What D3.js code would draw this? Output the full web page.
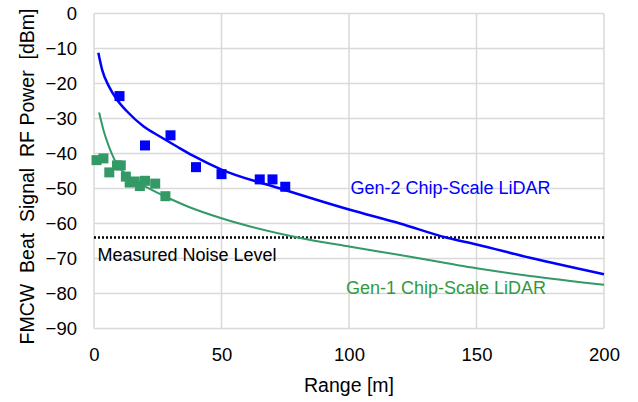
<!DOCTYPE html>
<html>
<head>
<meta charset="utf-8">
<script src="https://cdn.jsdelivr.net/npm/d3@7"></script>
<style>
  body { margin: 0; background: #fff; }
  svg { font-family: "Liberation Sans", Arial, sans-serif; }
</style>
</head>
<body>
<div class="panel"></div>
<script>
// measured points [range m, power dBm]
const gen2Points = [[10, -23.6], [20, -37.7], [30, -34.8], [40, -43.9], [50, -45.9],
                    [65, -47.4], [70, -47.4], [75, -49.5]];
const gen1Points = [[1, -41.9], [3.7, -41.4], [6, -45.4], [9, -43.4], [10.5, -43.4],
                    [12.5, -46.6], [14, -48.3], [16, -48], [18, -49.3], [20, -47.8],
                    [24, -48.6], [28, -52.2]];

// fitted curves
const gen2Fit = [[1.7, -11.2], [3.2, -16.1], [5.9, -20.9], [9.1, -24.7], [13, -28], [19.5, -32.3],
                 [26, -35.2], [32.5, -38], [39, -40.7], [50, -44.6], [73, -50], [100, -56],
                 [120, -60], [138, -64], [150, -66], [171, -69.8], [200, -74.5]];
const gen1Fit = [[2, -28.3], [3.9, -33.8], [5.9, -38.1], [7.8, -41.4], [9.4, -43.6], [12, -45.5],
                 [16, -47.8], [20, -49.4], [24, -50.9], [30, -53], [37, -55.2], [50, -58.5],
                 [80, -64], [100, -66.6], [120, -69], [150, -72.8], [171, -75], [200, -77.5]];

const noiseLevel = -64;
const xTicks = [0, 50, 100, 150, 200];
const yTicks = [0, -10, -20, -30, -40, -50, -60, -70, -80, -90];

const width = 638;
const height = 402;
const plotLeft = 94, plotTop = 13.5, plotRight = 604, plotBottom = 328.5;

const svg = d3.select(".panel")
  .append("svg")
  .attr("width", width)
  .attr("height", height);

const x = d3.scaleLinear().domain([0, 200]).range([plotLeft, plotRight]);
const y = d3.scaleLinear().domain([-90, 0]).range([plotBottom, plotTop]);

// grid
svg.append("g")
   .selectAll("line")
   .data(yTicks)
   .join("line")
   .attr("x1", plotLeft).attr("x2", plotRight)
   .attr("y1", d => y(d)).attr("y2", d => y(d))
   .attr("stroke", "#d9d9d9").attr("stroke-width", 1.5);

svg.append("g")
   .selectAll("line")
   .data(xTicks)
   .join("line")
   .attr("x1", d => x(d)).attr("x2", d => x(d))
   .attr("y1", plotTop).attr("y2", plotBottom)
   .attr("stroke", "#d9d9d9").attr("stroke-width", 1.5);

// axes (text only, lines come from the grid)
const xAxis = svg.append("g")
   .attr("transform", `translate(0, ${plotBottom})`)
   .call(d3.axisBottom(x).tickValues(xTicks).tickSize(0).tickPadding(19));
const yAxis = svg.append("g")
   .attr("transform", `translate(${plotLeft}, 0)`)
   .call(d3.axisLeft(y).tickValues(yTicks).tickSize(0).tickPadding(17));
[xAxis, yAxis].forEach(a => {
  a.select(".domain").remove();
  a.selectAll("text")
   .attr("font-size", 18.5)
   .attr("font-family", "Liberation Sans, Arial, sans-serif")
   .attr("fill", "#000");
});

// noise level
svg.append("line")
   .attr("x1", x(0)).attr("x2", x(200))
   .attr("y1", y(noiseLevel)).attr("y2", y(noiseLevel))
   .attr("stroke", "#000").attr("stroke-width", 2.5)
   .attr("stroke-dasharray", "2,2");

// markers
const sq = 10;
svg.append("g")
   .selectAll("rect")
   .data(gen1Points)
   .join("rect")
   .attr("x", d => x(d[0]) - sq / 2).attr("y", d => y(d[1]) - sq / 2)
   .attr("width", sq).attr("height", sq)
   .attr("fill", "#339966");

svg.append("g")
   .selectAll("rect")
   .data(gen2Points)
   .join("rect")
   .attr("x", d => x(d[0]) - sq / 2).attr("y", d => y(d[1]) - sq / 2)
   .attr("width", sq).attr("height", sq)
   .attr("fill", "#0000ff");

// fit lines
const line = d3.line()
  .x(d => x(d[0]))
  .y(d => y(d[1]))
  .curve(d3.curveMonotoneX);

svg.append("path")
   .attr("d", line(gen1Fit))
   .attr("fill", "none").attr("stroke", "#339966").attr("stroke-width", 2);

svg.append("path")
   .attr("d", line(gen2Fit))
   .attr("fill", "none").attr("stroke", "#0000ff").attr("stroke-width", 2.5);

// labels
svg.append("text")
   .attr("x", 350.5).attr("y", 193.5)
   .attr("font-size", 18).attr("fill", "#0000ff")
   .text("Gen-2 Chip-Scale LiDAR");

svg.append("text")
   .attr("x", 346).attr("y", 294)
   .attr("font-size", 18).attr("fill", "#2e9a42")
   .text("Gen-1 Chip-Scale LiDAR");

svg.append("text")
   .attr("x", 97.5).attr("y", 260.5)
   .attr("font-size", 18).attr("fill", "#000")
   .text("Measured Noise Level");

svg.append("text")
   .attr("x", (plotLeft + plotRight) / 2).attr("y", 392)
   .attr("text-anchor", "middle")
   .attr("font-size", 19.5)
   .text("Range [m]");

svg.append("text")
   .attr("transform", "translate(34, 176.5) rotate(-90)")
   .attr("text-anchor", "middle")
   .attr("font-size", 19.5)
   .style("white-space", "pre")
   .text("FMCW  Beat  Signal  RF Power  [dBm]");
</script>
</body>
</html>
